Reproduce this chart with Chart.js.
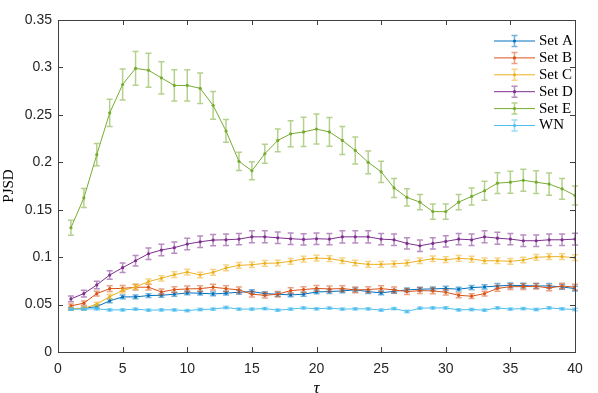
<!DOCTYPE html>
<html>
<head>
<meta charset="utf-8">
<script src="https://cdn.jsdelivr.net/npm/chart.js@4.4.1/dist/chart.umd.min.js"></script>
<style>
  body { margin: 0; background: #fff; }
  canvas { display: block; }
</style>
</head>
<body>
<canvas id="pjsd-chart" width="598" height="393"></canvas>
<script>
var tau = [1, 2, 3, 4, 5, 6, 7, 8, 9, 10, 11, 12, 13, 14, 15, 16, 17, 18, 19, 20,
           21, 22, 23, 24, 25, 26, 27, 28, 29, 30, 31, 32, 33, 34, 35, 36, 37, 38, 39, 40]
var series_names = ['Set A', 'Set B', 'Set C', 'Set D', 'Set E', 'WN']
var series_colors = ['#0072BD', '#D95319', '#EDB120', '#7E2F8E', '#77AC30', '#4DBEEE']
var x_ticks = [0, 5, 10, 15, 20, 25, 30, 35, 40]
var y_ticks = [0, 0.05, 0.1, 0.15, 0.2, 0.25, 0.3, 0.35]

var set_a = [0.0455, 0.046, 0.0479, 0.0539, 0.0581, 0.0581, 0.0595, 0.0598, 0.0609, 0.0623,
             0.062, 0.0612, 0.062, 0.063, 0.0637, 0.0616, 0.0609, 0.0602, 0.0609, 0.0633,
             0.0637, 0.0644, 0.0655, 0.0637, 0.0623, 0.064, 0.0655, 0.0662, 0.0665, 0.067,
             0.0662, 0.0679, 0.0686, 0.0696, 0.0703, 0.07, 0.0696, 0.0696, 0.0686, 0.0668]
var set_b = [0.0486, 0.0515, 0.0616, 0.0668, 0.067, 0.0683, 0.0683, 0.0633, 0.0658, 0.0665,
             0.0668, 0.0683, 0.0668, 0.0655, 0.0609, 0.0598, 0.0609, 0.0647, 0.0658, 0.067,
             0.0665, 0.0668, 0.0655, 0.0658, 0.0668, 0.0655, 0.0637, 0.0647, 0.0644, 0.063,
             0.0598, 0.0588, 0.0616, 0.067, 0.0689, 0.0689, 0.0693, 0.0675, 0.0696, 0.0683]
var set_c = [0.0458, 0.046, 0.0504, 0.0584, 0.0647, 0.0686, 0.0742, 0.0777, 0.0815, 0.0843,
             0.0812, 0.084, 0.0886, 0.0914, 0.092, 0.0935, 0.0938, 0.0956, 0.098, 0.099,
             0.0985, 0.0962, 0.0938, 0.0924, 0.0924, 0.093, 0.0938, 0.0962, 0.0983, 0.0973,
             0.0987, 0.098, 0.0962, 0.0962, 0.0956, 0.097, 0.0998, 0.1005, 0.1005, 0.0994]
var set_d = [0.056, 0.0616, 0.0707, 0.0812, 0.0889, 0.0962, 0.1036, 0.1075, 0.110, 0.1138,
             0.1162, 0.118, 0.1183, 0.119, 0.1214, 0.1214, 0.1204, 0.1194, 0.1187, 0.1194,
             0.119, 0.1214, 0.1214, 0.1214, 0.119, 0.1183, 0.1145, 0.112, 0.1145, 0.1166,
             0.119, 0.1183, 0.1214, 0.12, 0.119, 0.1173, 0.1173, 0.1183, 0.1183, 0.119]
var set_e = [0.131, 0.1624, 0.208, 0.252, 0.282, 0.299, 0.297, 0.289, 0.281, 0.281,
             0.278, 0.260, 0.233, 0.201, 0.191, 0.209, 0.223, 0.230, 0.232, 0.235,
             0.232, 0.223, 0.2125, 0.200, 0.190, 0.173, 0.163, 0.158, 0.148, 0.148,
             0.158, 0.164, 0.170, 0.178, 0.179, 0.181, 0.179, 0.177, 0.172, 0.165]
var set_wn = [0.0452, 0.0452, 0.0455, 0.0444, 0.0444, 0.0452, 0.0441, 0.0444, 0.0444, 0.0437,
              0.0448, 0.0452, 0.0469, 0.0452, 0.0452, 0.0458, 0.0441, 0.0452, 0.0465, 0.0455,
              0.0463, 0.0452, 0.0455, 0.0455, 0.0441, 0.0458, 0.0427, 0.0462, 0.0465, 0.0465,
              0.0444, 0.0448, 0.0441, 0.0465, 0.0452, 0.0458, 0.0448, 0.0465, 0.0455, 0.0448]

// half-length of each error bar
var err_a = [0.0015, 0.0015, 0.0018, 0.002, 0.002, 0.002, 0.002, 0.002, 0.002, 0.002,
             0.002, 0.002, 0.002, 0.002, 0.002, 0.002, 0.002, 0.002, 0.002, 0.002,
             0.002, 0.002, 0.002, 0.002, 0.002, 0.002, 0.002, 0.002, 0.002, 0.0022,
             0.002, 0.0022, 0.0022, 0.0025, 0.0025, 0.0025, 0.0025, 0.0025, 0.0025, 0.0025]
var err_b = [0.002, 0.0022, 0.0025, 0.003, 0.003, 0.003, 0.003, 0.003, 0.003, 0.003,
             0.003, 0.003, 0.003, 0.003, 0.003, 0.003, 0.003, 0.003, 0.003, 0.003,
             0.003, 0.003, 0.003, 0.003, 0.003, 0.003, 0.003, 0.003, 0.003, 0.003,
             0.0025, 0.0025, 0.0025, 0.003, 0.003, 0.003, 0.003, 0.003, 0.003, 0.003]
var err_c = [0.0015, 0.0018, 0.002, 0.0025, 0.0025, 0.0025, 0.0028, 0.0028, 0.003, 0.003,
             0.003, 0.003, 0.003, 0.003, 0.003, 0.003, 0.003, 0.003, 0.003, 0.003,
             0.003, 0.003, 0.003, 0.003, 0.003, 0.003, 0.003, 0.003, 0.003, 0.003,
             0.003, 0.003, 0.003, 0.003, 0.003, 0.003, 0.003, 0.003, 0.003, 0.003]
var err_d = [0.003, 0.0035, 0.004, 0.0045, 0.005, 0.0055, 0.006, 0.006, 0.006, 0.006,
             0.006, 0.006, 0.006, 0.006, 0.0063, 0.0063, 0.006, 0.006, 0.006, 0.006,
             0.006, 0.0065, 0.0065, 0.0065, 0.006, 0.006, 0.006, 0.006, 0.006, 0.006,
             0.006, 0.006, 0.0063, 0.0063, 0.006, 0.006, 0.006, 0.006, 0.006, 0.0063]
var err_e = [0.008, 0.010, 0.0117, 0.0144, 0.0163, 0.0177, 0.018, 0.017, 0.0165, 0.0165,
             0.016, 0.0145, 0.012, 0.0096, 0.0095, 0.010, 0.012, 0.0137, 0.0154, 0.0158,
             0.0152, 0.0147, 0.0142, 0.012, 0.0112, 0.010, 0.009, 0.008, 0.008, 0.008,
             0.008, 0.009, 0.010, 0.011, 0.0116, 0.0116, 0.012, 0.0117, 0.011, 0.010]
var err_wn = [0.0012, 0.0012, 0.0012, 0.0012, 0.0012, 0.0012, 0.0012, 0.0012, 0.0012, 0.0012,
              0.0012, 0.0012, 0.0012, 0.0012, 0.0012, 0.0012, 0.0012, 0.0012, 0.0012, 0.0012,
              0.0012, 0.0012, 0.0012, 0.0012, 0.0012, 0.0012, 0.0012, 0.0012, 0.0012, 0.0012,
              0.0012, 0.0012, 0.0012, 0.0012, 0.0012, 0.0012, 0.0012, 0.0012, 0.0012, 0.0012]

var all_values = [set_a, set_b, set_c, set_d, set_e, set_wn]
var all_errors = [err_a, err_b, err_c, err_d, err_e, err_wn]

var axis_color = '#404040'
var tick_font = {family: "'Liberation Sans', Arial, sans-serif", size: 14}

function fade(hex, a) {
    var n = parseInt(hex.slice(1), 16)
    return 'rgba(' + (n >> 16) + ',' + ((n >> 8) & 255) + ',' + (n & 255) + ',' + a + ')'
}

var datasets = all_values.map(function (vals, i) {
    return {
        label: series_names[i],
        data: vals.map(function (v, j) { return {x: tau[j], y: v} }),
        errors: all_errors[i],
        borderColor: series_colors[i],
        backgroundColor: series_colors[i],
        pointBackgroundColor: series_colors[i],
        pointBorderWidth: 0,
        pointRadius: 1.6,
        borderWidth: 1,
        fill: false,
        tension: 0,
        order: all_values.length - i
    }
})

// error bars, drawn under each line
var errorBars = {
    id: 'errorBars',
    beforeDatasetDraw: function (chart, args) {
        var ds = chart.data.datasets[args.index]
        var yScale = chart.scales.y
        var ctx = chart.ctx
        ctx.save()
        ctx.strokeStyle = fade(ds.borderColor, 0.55)
        ctx.lineWidth = 1.5
        args.meta.data.forEach(function (pt, j) {
            var v = ds.data[j].y, e = ds.errors[j]
            var top = yScale.getPixelForValue(v + e)
            var bot = yScale.getPixelForValue(v - e)
            ctx.beginPath()
            ctx.moveTo(pt.x, top); ctx.lineTo(pt.x, bot)
            ctx.moveTo(pt.x - 3, top); ctx.lineTo(pt.x + 3, top)
            ctx.moveTo(pt.x - 3, bot); ctx.lineTo(pt.x + 3, bot)
            ctx.stroke()
        })
        ctx.restore()
    }
}

// box around the axes with inward ticks on all four sides
var axisBox = {
    id: 'axisBox',
    afterDraw: function (chart) {
        var a = chart.chartArea, ctx = chart.ctx
        var xs = chart.scales.x, ys = chart.scales.y
        ctx.save()
        ctx.strokeStyle = axis_color
        ctx.lineWidth = 1
        ctx.strokeRect(Math.round(a.left) + 0.5, Math.round(a.top) + 0.5,
                       Math.round(a.right - a.left), Math.round(a.bottom - a.top))
        ctx.beginPath()
        x_ticks.forEach(function (t) {
            var px = Math.round(xs.getPixelForValue(t)) + 0.5
            ctx.moveTo(px, a.bottom); ctx.lineTo(px, a.bottom - 5)
            ctx.moveTo(px, a.top); ctx.lineTo(px, a.top + 5)
        })
        y_ticks.forEach(function (t) {
            var py = Math.round(ys.getPixelForValue(t)) + 0.5
            ctx.moveTo(a.left, py); ctx.lineTo(a.left + 5, py)
            ctx.moveTo(a.right, py); ctx.lineTo(a.right - 5, py)
        })
        ctx.stroke()
        ctx.restore()
    }
}

// legend in the top right, line + errorbar glyph then serif label
var sideLegend = {
    id: 'sideLegend',
    afterDraw: function (chart) {
        var ctx = chart.ctx
        var x0 = 494, x1 = 535, y0 = 41, step = 16.9
        ctx.save()
        ctx.font = "15px 'Liberation Serif', 'Times New Roman', serif"
        ctx.textBaseline = 'middle'
        chart.data.datasets.forEach(function (ds, i) {
            var y = y0 + i * step
            var cx = (x0 + x1) / 2
            ctx.strokeStyle = fade(ds.borderColor, 0.55)
            ctx.lineWidth = 1.5
            ctx.beginPath()
            ctx.moveTo(cx, y - 5.5); ctx.lineTo(cx, y + 5.5)
            ctx.moveTo(cx - 3, y - 5.5); ctx.lineTo(cx + 3, y - 5.5)
            ctx.moveTo(cx - 3, y + 5.5); ctx.lineTo(cx + 3, y + 5.5)
            ctx.stroke()
            ctx.strokeStyle = ds.borderColor
            ctx.lineWidth = 1
            ctx.beginPath()
            ctx.moveTo(x0, y); ctx.lineTo(x1, y)
            ctx.stroke()
            ctx.fillStyle = ds.borderColor
            ctx.beginPath()
            ctx.arc(cx, y, 1.6, 0, Math.PI * 2)
            ctx.fill()
            ctx.fillStyle = '#000'
            ctx.fillText(ds.label, 539, y)
        })
        ctx.restore()
    }
}

var pjsdChart = new Chart(document.getElementById('pjsd-chart'), {
    type: 'line',
    data: {datasets: datasets},
    plugins: [errorBars, axisBox, sideLegend],
    options: {
        responsive: false,
        animation: false,
        layout: {padding: {left: 0, right: 23, top: 20, bottom: 0}},
        plugins: {legend: {display: false}, tooltip: {enabled: false}},
        scales: {
            x: {
                type: 'linear', min: 0, max: 40,
                afterFit: function (s) { s.height = 41 },
                afterBuildTicks: function (s) { s.ticks = x_ticks.map(function (v) { return {value: v} }) },
                grid: {display: false, drawTicks: false},
                border: {display: false},
                ticks: {font: tick_font, color: '#262626', padding: 9, maxRotation: 0},
                title: {
                    display: true, text: 'τ', color: '#000',
                    font: {family: "'Liberation Serif', serif", style: 'italic', size: 17, lineHeight: 1},
                    padding: {top: 0, bottom: -4}
                }
            },
            y: {
                min: 0, max: 0.35,
                afterFit: function (s) { s.width = 58 },
                afterBuildTicks: function (s) { s.ticks = y_ticks.map(function (v) { return {value: v} }) },
                grid: {display: false, drawTicks: false},
                border: {display: false},
                ticks: {
                    font: tick_font, color: '#262626', padding: 6,
                    callback: function (v) { return String(+v.toFixed(2)) }
                },
                title: {
                    display: true, text: 'PJSD', color: '#000',
                    font: {family: "'Liberation Serif', serif", size: 15, lineHeight: 1.2},
                    padding: {top: 0, bottom: 0}
                }
            }
        }
    }
})
</script>
</body>
</html>
